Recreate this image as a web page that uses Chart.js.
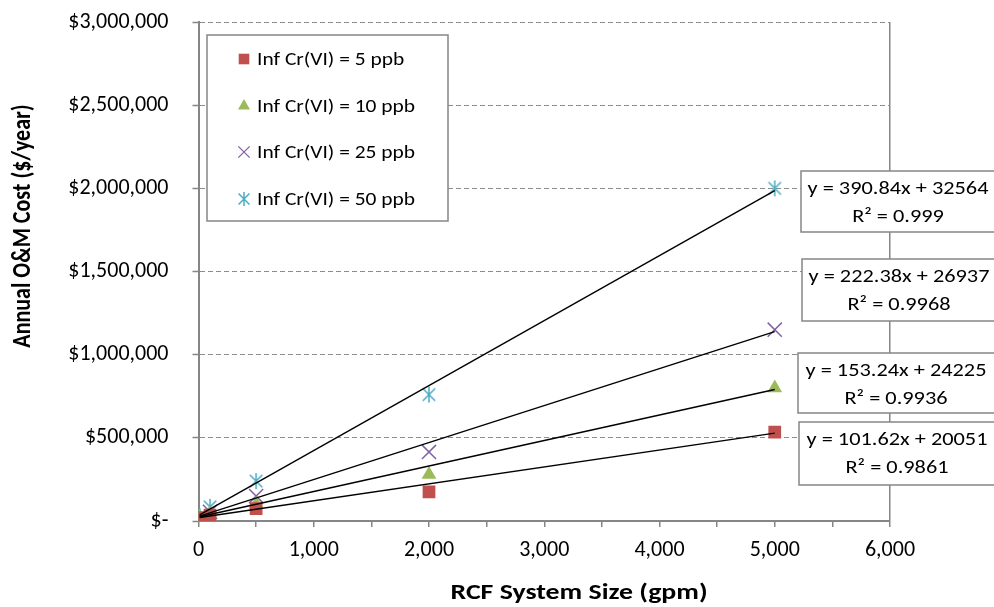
<!DOCTYPE html>
<html>
<head>
<meta charset="utf-8">
<title>Annual O&amp;M Cost vs RCF System Size</title>
<script src="https://cdn.jsdelivr.net/npm/chart.js@4.4.0/dist/chart.umd.min.js"></script>
<style>
    html, body { margin: 0; padding: 0; background: #fff; }
    #contenedor { width: 994px; height: 607px; position: relative; }
</style>
</head>
<body>
<div id="contenedor"><canvas id="grafico"></canvas></div>
<script>
// Tamaño del sistema RCF (gpm)
const tamanos = [10, 100, 500, 2000, 5000];

// Costo anual de O&M ($/año) para cada concentración de Cr(VI)
const costo5ppb = [21000, 36000, 75000, 175000, 535000];
const costo10ppb = [22000, 42000, 100000, 280000, 800000];
const costo25ppb = [25000, 55000, 150000, 415000, 1150000];
const costo50ppb = [30000, 85000, 240000, 760000, 2000000];

const etiquetasSerie = ['Inf Cr(VI) = 5 ppb', 'Inf Cr(VI) = 10 ppb', 'Inf Cr(VI) = 25 ppb', 'Inf Cr(VI) = 50 ppb'];

// Líneas de tendencia (tal como aparecen en el gráfico)
const pendientes = [101.62, 153.24, 222.38, 390.84];
const intercepciones = [20051, 24225, 26937, 32564];
const valoresR2 = ['0.9861', '0.9936', '0.9968', '0.999'];

const FUENTE = 'Carlito, Lato, sans-serif';
const GRIS = '#868686';
const colores = ['#C0504D', '#9BBB59', '#8064A2', '#4BACC6'];

// Marcador tipo asterisco (X con línea vertical), como el de Excel
function crearAsterisco(tam, color) {
    const c = document.createElement('canvas');
    c.width = tam;
    c.height = tam;
    const g = c.getContext('2d');
    const m = tam / 2;
    const r = tam / 2 - 1;
    const d = r * 0.78;
    g.strokeStyle = color;
    g.lineWidth = 1.5;
    g.beginPath();
    g.moveTo(m, m - r); g.lineTo(m, m + r);
    g.moveTo(m - d, m - d); g.lineTo(m + d, m + d);
    g.moveTo(m - d, m + d); g.lineTo(m + d, m - d);
    g.stroke();
    return c;
}

const asterisco = crearAsterisco(18, colores[3]);
const asteriscoLeyenda = crearAsterisco(16, colores[3]);
const estilos = ['rect', 'triangle', 'crossRot', asterisco];
const radios = [9, 8.5, 10, 9];

const series = [costo5ppb, costo10ppb, costo25ppb, costo50ppb];

const datasets = [];
series.forEach((serie, i) => {
    datasets.push({
        label: etiquetasSerie[i],
        data: tamanos.map((x, j) => ({ x: x, y: serie[j] })),
        pointStyle: estilos[i],
        pointRadius: radios[i],
        backgroundColor: colores[i],
        borderColor: colores[i],
        borderWidth: i >= 2 ? 1.5 : 0,
        showLine: false,
        order: 1
    });
});
series.forEach((serie, i) => {
    const x0 = tamanos[0];
    const x1 = tamanos[tamanos.length - 1];
    datasets.push({
        label: 'Tendencia ' + etiquetasSerie[i],
        data: [
            { x: x0, y: pendientes[i] * x0 + intercepciones[i] },
            { x: x1, y: pendientes[i] * x1 + intercepciones[i] }
        ],
        showLine: true,
        pointRadius: 0,
        borderColor: '#000',
        borderWidth: 1.4,
        order: 0
    });
});

// Texto ensanchado horizontalmente (el original usa letras anchas y bajas)
function textoAncho(ctx, texto, x, y, escala) {
    ctx.save();
    ctx.translate(x, y);
    ctx.scale(escala, 1);
    ctx.fillText(texto, 0, 0);
    ctx.restore();
}

// Leyenda, cajas de ecuaciones y títulos de ejes
const extras = {
    id: 'extras',
    afterDraw(chart) {
        const ctx = chart.ctx;
        ctx.save();

        // Leyenda
        ctx.fillStyle = '#fff';
        ctx.strokeStyle = GRIS;
        ctx.lineWidth = 1.5;
        ctx.fillRect(207, 35, 241, 186);
        ctx.strokeRect(207, 35, 241, 186);
        const filas = [59, 106, 152, 199];
        const radiosLeyenda = [7.5, 7, 8, 0];
        for (let i = 0; i < 4; i++) {
            ctx.fillStyle = colores[i];
            ctx.strokeStyle = colores[i];
            ctx.lineWidth = 1.3;
            if (i === 3) {
                ctx.drawImage(asteriscoLeyenda, 244 - 8, filas[i] - 8);
            } else {
                Chart.helpers.drawPoint(ctx, {
                    pointStyle: estilos[i],
                    rotation: 0,
                    radius: radiosLeyenda[i],
                    borderWidth: i >= 2 ? 1.3 : 0
                }, 244, filas[i]);
            }
            ctx.fillStyle = '#000';
            ctx.font = '18px ' + FUENTE;
            ctx.textAlign = 'left';
            ctx.textBaseline = 'middle';
            textoAncho(ctx, etiquetasSerie[i], 257, filas[i] + 1, 1.19);
        }

        // Cajas con ecuaciones de tendencia (de arriba hacia abajo: 50, 25, 10, 5 ppb)
        const cajas = [
            { i: 3, x: 801, y: 171, h: 61, cx: 898 },
            { i: 2, x: 802, y: 259, h: 62, cx: 899 },
            { i: 1, x: 798, y: 353, h: 60, cx: 896 },
            { i: 0, x: 799, y: 422, h: 63, cx: 897 }
        ];
        cajas.forEach(c => {
            ctx.fillStyle = '#fff';
            ctx.strokeStyle = GRIS;
            ctx.lineWidth = 1.5;
            ctx.fillRect(c.x, c.y, 220, c.h);
            ctx.strokeRect(c.x, c.y, 220, c.h);
            ctx.fillStyle = '#000';
            ctx.font = '19px ' + FUENTE;
            ctx.textAlign = 'center';
            ctx.textBaseline = 'middle';
            textoAncho(ctx, 'y = ' + pendientes[c.i] + 'x + ' + intercepciones[c.i], c.cx, c.y + 18, 1.175);
            textoAncho(ctx, 'R\u00B2 = ' + valoresR2[c.i], c.cx, c.y + 46, 1.175);
        });

        // Títulos de los ejes
        ctx.font = 'bold 22px ' + FUENTE;
        ctx.fillStyle = '#000';
        ctx.textAlign = 'center';
        ctx.textBaseline = 'middle';
        textoAncho(ctx, 'RCF System Size (gpm)', 579, 593, 1.265);
        ctx.translate(24, 226);
        ctx.rotate(-Math.PI / 2);
        ctx.scale(1, 1.15);
        ctx.fillText('Annual O&M Cost ($/year)', 0, 0);

        ctx.restore();
    }
};

document.addEventListener('DOMContentLoaded', function() {
    const ctxGrafico = document.getElementById('grafico').getContext('2d');
    new Chart(ctxGrafico, {
        type: 'scatter',
        data: { datasets: datasets },
        options: {
            responsive: true,
            maintainAspectRatio: false,
            animation: false,
            layout: { padding: { left: 0, right: 104, top: 22, bottom: 0 } },
            plugins: {
                legend: { display: false },
                tooltip: { enabled: false }
            },
            scales: {
                x: {
                    type: 'linear',
                    min: 0,
                    max: 6000,
                    afterFit: s => { s.height = 86; },
                    ticks: {
                        stepSize: 500,
                        autoSkip: false,
                        maxRotation: 0,
                        padding: 10,
                        color: '#000',
                        font: { family: FUENTE, size: 22 },
                        callback: v => v % 1000 === 0 ? v.toLocaleString('en-US') : ''
                    },
                    grid: {
                        color: c => (c.tick && c.tick.value === 6000) ? GRIS : 'rgba(0,0,0,0)',
                        lineWidth: 1.5,
                        tickLength: 6,
                        tickColor: GRIS
                    },
                    border: { color: GRIS, width: 2 }
                },
                y: {
                    min: 0,
                    max: 3000000,
                    afterFit: s => {
                        s.width = 198.5;
                        s.paddingTop = 0;
                        s.paddingBottom = 0;
                    },
                    ticks: {
                        stepSize: 500000,
                        padding: 24,
                        color: '#000',
                        font: { family: FUENTE, size: 22 },
                        callback: v => v === 0 ? '$-' : '$' + v.toLocaleString('en-US')
                    },
                    grid: {
                        color: c => (c.tick && c.tick.value === 0) ? 'rgba(0,0,0,0)' : '#8c8c8c',
                        lineWidth: 1,
                        tickLength: 6,
                        tickColor: GRIS,
                        tickWidth: 1.5,
                        tickBorderDash: []
                    },
                    border: { color: GRIS, width: 2, dash: [5, 3] }
                }
            }
        },
        plugins: [extras]
    });
});
</script>
</body>
</html>
